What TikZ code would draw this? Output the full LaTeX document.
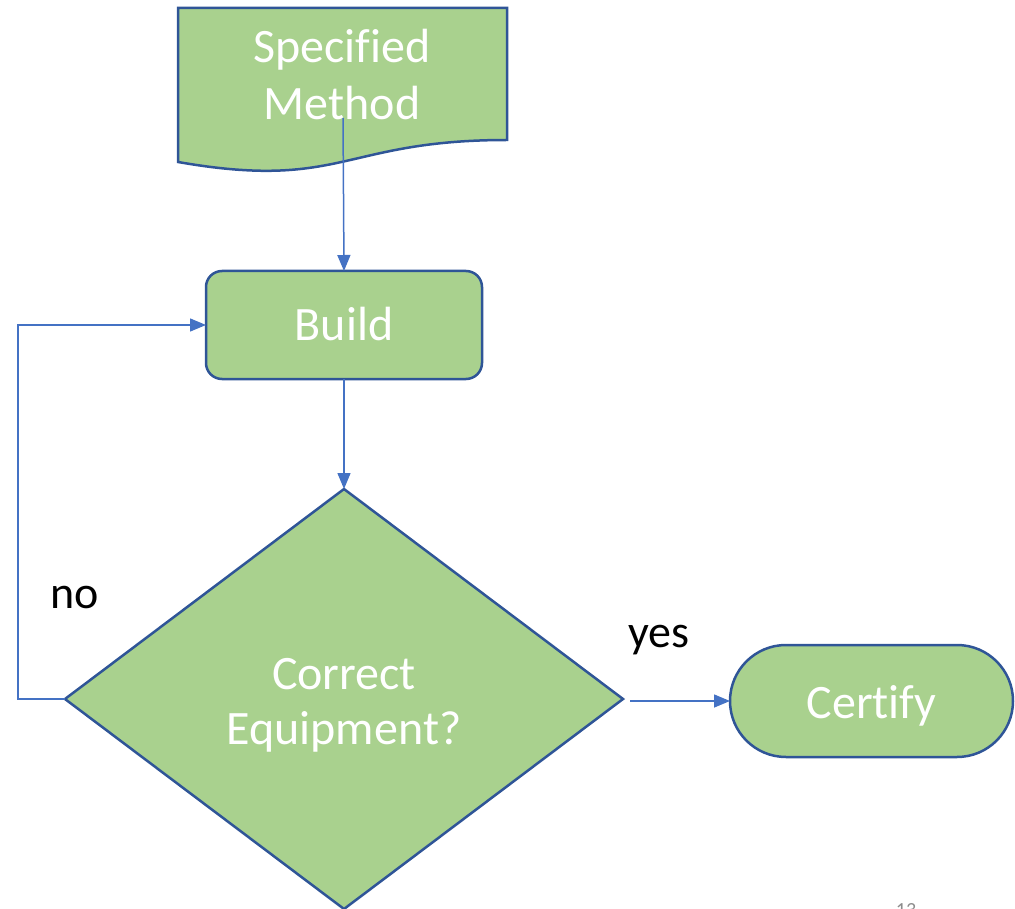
\documentclass[tikz,border=0pt]{standalone}
\usepackage{fontspec}
\setmainfont{Carlito}[Ligatures=NoCommon]
\usetikzlibrary{arrows.meta,shapes.geometric}
\definecolor{boxfill}{HTML}{A9D18E}
\definecolor{boxline}{HTML}{2F5597}
\definecolor{arrowc}{HTML}{4472C4}
\definecolor{pagenum}{HTML}{8C8C8C}
\tikzset{
  box/.style={fill=boxfill, draw=boxline, line width=2.5pt, inner sep=0pt, outer sep=0pt},
  boxtext/.style={text=white, font=\fontsize{48}{58}\selectfont, inner sep=0pt, anchor=base},
  conn/.style={draw=arrowc, line width=1.5pt, -{Triangle[length=16pt,width=13pt]}},
  lbl/.style={text=black, font=\fontsize{46}{55}\selectfont, inner sep=0pt, anchor=base}
}
\begin{document}
\begin{tikzpicture}[x=1pt,y=-1pt]
\useasboundingbox (0,0) rectangle (1015,909);
\begin{scope}
\clip (0,0) rectangle (1015,909);
% document shape
\path[box] (178,8) -- (507,8) -- (507,140) .. controls (342.5,140) and (342.5,190.7) .. (178,162) -- cycle;
\coordinate (docout) at (343,118);
% build
\node[box, rounded corners=16pt, minimum width=276pt, minimum height=108pt] (build) at (344,325) {};
% decision
\node[box, diamond, aspect=1.33, minimum width=558pt, minimum height=420pt] (dec) at (344,699) {};
% certify
\node[box, rounded corners=56pt, minimum width=283pt, minimum height=112pt] (cert) at (871.5,701) {};
\coordinate (loop) at (18,325);
\coordinate (decright) at (630,701);
% texts
\node[boxtext] (t1) at (342,63) {Specified};
\node[boxtext] (t2) at (342,120) {Method};
\node[boxtext] (t3) at (344,341) {Build};
\node[boxtext] (t4) at (344,689) {Correct};
\node[boxtext] (t5) at (344,744) {Equipment?};
\node[boxtext] (t6) at (871.5,718) {Certify};
% connectors
\draw[conn] (docout) -- (build.north);
\draw[conn] (build.south) -- (dec.north);
\draw[conn] (dec.west) -- (dec.west -| loop) -- (loop) -- (build.west);
\draw[conn] (decright) -- (cert.west);
% labels
\node[lbl] (no) at (75,608) {no};
\node[lbl] (yes) at (659,647) {yes};
\node[text=pagenum, font=\fontsize{20}{24}\selectfont, anchor=north] (pg) at (906,900) {13};
\end{scope}
\end{tikzpicture}
\end{document}
